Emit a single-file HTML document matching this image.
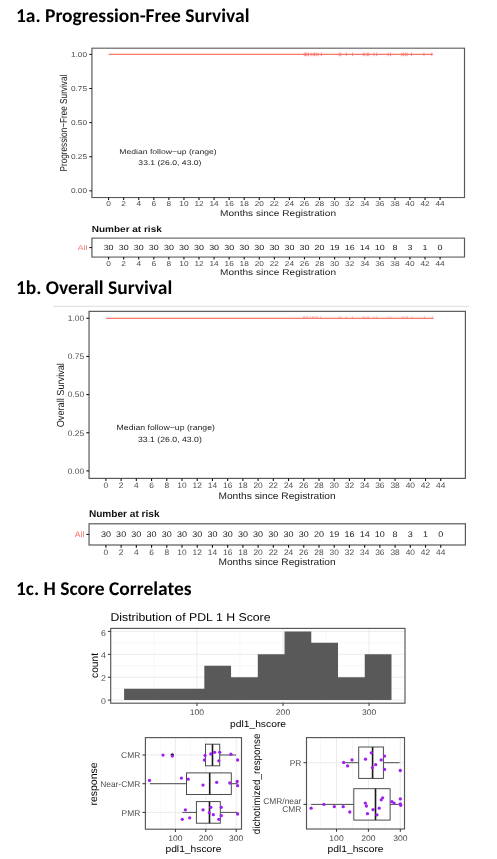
<!DOCTYPE html>
<html><head><meta charset="utf-8"><title>Figure 1</title><style>
html,body{margin:0;padding:0;background:#fff;}
body{width:497px;height:859px;overflow:hidden;position:relative;}
svg{position:absolute;left:0;top:0;font-family:'Liberation Sans', Arial, sans-serif;text-rendering:geometricPrecision;}
.ttl{font-family:Carlito, 'Liberation Sans', sans-serif;font-weight:bold;font-size:19.5px;fill:#000;}
</style></head><body>
<svg width="497" height="859" viewBox="0 0 497 859">
<text class="ttl" x="15.9" y="21.75" textLength="233.6" lengthAdjust="spacingAndGlyphs">1a. Progression-Free Survival</text>
<text class="ttl" x="15.9" y="293.85" textLength="156.3" lengthAdjust="spacingAndGlyphs">1b. Overall Survival</text>
<text class="ttl" x="15.9" y="594.6" textLength="175.7" lengthAdjust="spacingAndGlyphs">1c. H Score Correlates</text>
<g transform="matrix(0.99,0,0,0.894,3.76,-230.16)">
<rect x="89.05" y="311.35" width="376.35" height="167.05" fill="none" stroke="#595959" stroke-width="1.2"/>
<line x1="86.35" y1="470.90" x2="89.05" y2="470.90" stroke="#111" stroke-width="1.1"/>
<text transform="translate(84.15,473.75) scale(1,0.95)" font-size="8.4" text-anchor="end" fill="#4d4d4d">0.00</text>
<line x1="86.35" y1="432.75" x2="89.05" y2="432.75" stroke="#111" stroke-width="1.1"/>
<text transform="translate(84.15,435.60) scale(1,0.95)" font-size="8.4" text-anchor="end" fill="#4d4d4d">0.25</text>
<line x1="86.35" y1="394.60" x2="89.05" y2="394.60" stroke="#111" stroke-width="1.1"/>
<text transform="translate(84.15,397.45) scale(1,0.95)" font-size="8.4" text-anchor="end" fill="#4d4d4d">0.50</text>
<line x1="86.35" y1="356.45" x2="89.05" y2="356.45" stroke="#111" stroke-width="1.1"/>
<text transform="translate(84.15,359.30) scale(1,0.95)" font-size="8.4" text-anchor="end" fill="#4d4d4d">0.75</text>
<line x1="86.35" y1="318.30" x2="89.05" y2="318.30" stroke="#111" stroke-width="1.1"/>
<text transform="translate(84.15,321.15) scale(1,0.95)" font-size="8.4" text-anchor="end" fill="#4d4d4d">1.00</text>
<line x1="105.90" y1="478.40" x2="105.90" y2="481.10" stroke="#111" stroke-width="1.1"/>
<text transform="translate(105.90,488.30) scale(1,0.95)" font-size="8.4" text-anchor="middle" fill="#4d4d4d">0</text>
<line x1="121.12" y1="478.40" x2="121.12" y2="481.10" stroke="#111" stroke-width="1.1"/>
<text transform="translate(121.12,488.30) scale(1,0.95)" font-size="8.4" text-anchor="middle" fill="#4d4d4d">2</text>
<line x1="136.34" y1="478.40" x2="136.34" y2="481.10" stroke="#111" stroke-width="1.1"/>
<text transform="translate(136.34,488.30) scale(1,0.95)" font-size="8.4" text-anchor="middle" fill="#4d4d4d">4</text>
<line x1="151.56" y1="478.40" x2="151.56" y2="481.10" stroke="#111" stroke-width="1.1"/>
<text transform="translate(151.56,488.30) scale(1,0.95)" font-size="8.4" text-anchor="middle" fill="#4d4d4d">6</text>
<line x1="166.78" y1="478.40" x2="166.78" y2="481.10" stroke="#111" stroke-width="1.1"/>
<text transform="translate(166.78,488.30) scale(1,0.95)" font-size="8.4" text-anchor="middle" fill="#4d4d4d">8</text>
<line x1="182.00" y1="478.40" x2="182.00" y2="481.10" stroke="#111" stroke-width="1.1"/>
<text transform="translate(182.00,488.30) scale(1,0.95)" font-size="8.4" text-anchor="middle" fill="#4d4d4d">10</text>
<line x1="197.22" y1="478.40" x2="197.22" y2="481.10" stroke="#111" stroke-width="1.1"/>
<text transform="translate(197.22,488.30) scale(1,0.95)" font-size="8.4" text-anchor="middle" fill="#4d4d4d">12</text>
<line x1="212.44" y1="478.40" x2="212.44" y2="481.10" stroke="#111" stroke-width="1.1"/>
<text transform="translate(212.44,488.30) scale(1,0.95)" font-size="8.4" text-anchor="middle" fill="#4d4d4d">14</text>
<line x1="227.66" y1="478.40" x2="227.66" y2="481.10" stroke="#111" stroke-width="1.1"/>
<text transform="translate(227.66,488.30) scale(1,0.95)" font-size="8.4" text-anchor="middle" fill="#4d4d4d">16</text>
<line x1="242.88" y1="478.40" x2="242.88" y2="481.10" stroke="#111" stroke-width="1.1"/>
<text transform="translate(242.88,488.30) scale(1,0.95)" font-size="8.4" text-anchor="middle" fill="#4d4d4d">18</text>
<line x1="258.10" y1="478.40" x2="258.10" y2="481.10" stroke="#111" stroke-width="1.1"/>
<text transform="translate(258.10,488.30) scale(1,0.95)" font-size="8.4" text-anchor="middle" fill="#4d4d4d">20</text>
<line x1="273.32" y1="478.40" x2="273.32" y2="481.10" stroke="#111" stroke-width="1.1"/>
<text transform="translate(273.32,488.30) scale(1,0.95)" font-size="8.4" text-anchor="middle" fill="#4d4d4d">22</text>
<line x1="288.54" y1="478.40" x2="288.54" y2="481.10" stroke="#111" stroke-width="1.1"/>
<text transform="translate(288.54,488.30) scale(1,0.95)" font-size="8.4" text-anchor="middle" fill="#4d4d4d">24</text>
<line x1="303.76" y1="478.40" x2="303.76" y2="481.10" stroke="#111" stroke-width="1.1"/>
<text transform="translate(303.76,488.30) scale(1,0.95)" font-size="8.4" text-anchor="middle" fill="#4d4d4d">26</text>
<line x1="318.98" y1="478.40" x2="318.98" y2="481.10" stroke="#111" stroke-width="1.1"/>
<text transform="translate(318.98,488.30) scale(1,0.95)" font-size="8.4" text-anchor="middle" fill="#4d4d4d">28</text>
<line x1="334.20" y1="478.40" x2="334.20" y2="481.10" stroke="#111" stroke-width="1.1"/>
<text transform="translate(334.20,488.30) scale(1,0.95)" font-size="8.4" text-anchor="middle" fill="#4d4d4d">30</text>
<line x1="349.42" y1="478.40" x2="349.42" y2="481.10" stroke="#111" stroke-width="1.1"/>
<text transform="translate(349.42,488.30) scale(1,0.95)" font-size="8.4" text-anchor="middle" fill="#4d4d4d">32</text>
<line x1="364.64" y1="478.40" x2="364.64" y2="481.10" stroke="#111" stroke-width="1.1"/>
<text transform="translate(364.64,488.30) scale(1,0.95)" font-size="8.4" text-anchor="middle" fill="#4d4d4d">34</text>
<line x1="379.86" y1="478.40" x2="379.86" y2="481.10" stroke="#111" stroke-width="1.1"/>
<text transform="translate(379.86,488.30) scale(1,0.95)" font-size="8.4" text-anchor="middle" fill="#4d4d4d">36</text>
<line x1="395.08" y1="478.40" x2="395.08" y2="481.10" stroke="#111" stroke-width="1.1"/>
<text transform="translate(395.08,488.30) scale(1,0.95)" font-size="8.4" text-anchor="middle" fill="#4d4d4d">38</text>
<line x1="410.30" y1="478.40" x2="410.30" y2="481.10" stroke="#111" stroke-width="1.1"/>
<text transform="translate(410.30,488.30) scale(1,0.95)" font-size="8.4" text-anchor="middle" fill="#4d4d4d">40</text>
<line x1="425.52" y1="478.40" x2="425.52" y2="481.10" stroke="#111" stroke-width="1.1"/>
<text transform="translate(425.52,488.30) scale(1,0.95)" font-size="8.4" text-anchor="middle" fill="#4d4d4d">42</text>
<line x1="440.74" y1="478.40" x2="440.74" y2="481.10" stroke="#111" stroke-width="1.1"/>
<text transform="translate(440.74,488.30) scale(1,0.95)" font-size="8.4" text-anchor="middle" fill="#4d4d4d">44</text>
<text transform="translate(277.05,498.90) scale(1,0.93)" font-size="10.2" text-anchor="middle" fill="#1a1a1a">Months since Registration</text>
<text transform="translate(64.30,395.20) scale(1,0.9) rotate(-90)" font-size="10.2" text-anchor="middle" fill="#1a1a1a">Progression−Free Survival</text>
<line x1="105.90" y1="318.30" x2="433.51" y2="318.30" stroke="#F8766D" stroke-width="1.2"/>
<line x1="303.52" y1="316.30" x2="303.52" y2="320.30" stroke="#F8766D" stroke-width="0.9"/>
<line x1="304.73" y1="316.30" x2="304.73" y2="320.30" stroke="#F8766D" stroke-width="0.9"/>
<line x1="306.14" y1="316.30" x2="306.14" y2="320.30" stroke="#F8766D" stroke-width="0.9"/>
<line x1="307.66" y1="316.30" x2="307.66" y2="320.30" stroke="#F8766D" stroke-width="0.9"/>
<line x1="310.48" y1="316.30" x2="310.48" y2="320.30" stroke="#F8766D" stroke-width="0.9"/>
<line x1="312.60" y1="316.30" x2="312.60" y2="320.30" stroke="#F8766D" stroke-width="0.9"/>
<line x1="314.01" y1="316.30" x2="314.01" y2="320.30" stroke="#F8766D" stroke-width="0.9"/>
<line x1="315.73" y1="316.30" x2="315.73" y2="320.30" stroke="#F8766D" stroke-width="0.9"/>
<line x1="317.55" y1="316.30" x2="317.55" y2="320.30" stroke="#F8766D" stroke-width="0.9"/>
<line x1="320.68" y1="316.30" x2="320.68" y2="320.30" stroke="#F8766D" stroke-width="0.9"/>
<line x1="338.84" y1="316.30" x2="338.84" y2="320.30" stroke="#F8766D" stroke-width="0.9"/>
<line x1="340.56" y1="316.30" x2="340.56" y2="320.30" stroke="#F8766D" stroke-width="0.9"/>
<line x1="346.01" y1="316.30" x2="346.01" y2="320.30" stroke="#F8766D" stroke-width="0.9"/>
<line x1="352.37" y1="316.30" x2="352.37" y2="320.30" stroke="#F8766D" stroke-width="0.9"/>
<line x1="363.07" y1="316.30" x2="363.07" y2="320.30" stroke="#F8766D" stroke-width="0.9"/>
<line x1="364.78" y1="316.30" x2="364.78" y2="320.30" stroke="#F8766D" stroke-width="0.9"/>
<line x1="367.30" y1="316.30" x2="367.30" y2="320.30" stroke="#F8766D" stroke-width="0.9"/>
<line x1="368.72" y1="316.30" x2="368.72" y2="320.30" stroke="#F8766D" stroke-width="0.9"/>
<line x1="373.97" y1="316.30" x2="373.97" y2="320.30" stroke="#F8766D" stroke-width="0.9"/>
<line x1="376.79" y1="316.30" x2="376.79" y2="320.30" stroke="#F8766D" stroke-width="0.9"/>
<line x1="388.20" y1="316.30" x2="388.20" y2="320.30" stroke="#F8766D" stroke-width="0.9"/>
<line x1="390.72" y1="316.30" x2="390.72" y2="320.30" stroke="#F8766D" stroke-width="0.9"/>
<line x1="402.12" y1="316.30" x2="402.12" y2="320.30" stroke="#F8766D" stroke-width="0.9"/>
<line x1="403.84" y1="316.30" x2="403.84" y2="320.30" stroke="#F8766D" stroke-width="0.9"/>
<line x1="405.96" y1="316.30" x2="405.96" y2="320.30" stroke="#F8766D" stroke-width="0.9"/>
<line x1="407.37" y1="316.30" x2="407.37" y2="320.30" stroke="#F8766D" stroke-width="0.9"/>
<line x1="411.91" y1="316.30" x2="411.91" y2="320.30" stroke="#F8766D" stroke-width="0.9"/>
<line x1="424.43" y1="316.30" x2="424.43" y2="320.30" stroke="#F8766D" stroke-width="0.9"/>
<line x1="432.30" y1="316.30" x2="432.30" y2="320.30" stroke="#F8766D" stroke-width="0.9"/>
<text transform="translate(165.90,430.20) scale(1,0.88)" font-size="8.7" text-anchor="middle" fill="#222">Median follow−up (range)</text>
<text transform="translate(167.82,441.60) scale(1,0.88)" font-size="8.7" text-anchor="middle" fill="#222">33.1 (26.0, 43.0)</text>
<text transform="translate(88.90,516.70) scale(1,0.97)" font-size="10.1" font-weight="bold" fill="#111">Number at risk</text>
<rect x="89.05" y="523.8" width="376.35" height="21.20" fill="none" stroke="#595959" stroke-width="1.2"/>
<line x1="86.35" y1="534.40" x2="89.05" y2="534.40" stroke="#111" stroke-width="1.1"/>
<text transform="translate(84.40,537.30) scale(1,0.92)" font-size="8.6" text-anchor="end" fill="#F8766D">All</text>
<text transform="translate(105.90,536.90) scale(1,0.92)" font-size="9" text-anchor="middle" fill="#1a1a1a">30</text>
<text transform="translate(121.12,536.90) scale(1,0.92)" font-size="9" text-anchor="middle" fill="#1a1a1a">30</text>
<text transform="translate(136.34,536.90) scale(1,0.92)" font-size="9" text-anchor="middle" fill="#1a1a1a">30</text>
<text transform="translate(151.56,536.90) scale(1,0.92)" font-size="9" text-anchor="middle" fill="#1a1a1a">30</text>
<text transform="translate(166.78,536.90) scale(1,0.92)" font-size="9" text-anchor="middle" fill="#1a1a1a">30</text>
<text transform="translate(182.00,536.90) scale(1,0.92)" font-size="9" text-anchor="middle" fill="#1a1a1a">30</text>
<text transform="translate(197.22,536.90) scale(1,0.92)" font-size="9" text-anchor="middle" fill="#1a1a1a">30</text>
<text transform="translate(212.44,536.90) scale(1,0.92)" font-size="9" text-anchor="middle" fill="#1a1a1a">30</text>
<text transform="translate(227.66,536.90) scale(1,0.92)" font-size="9" text-anchor="middle" fill="#1a1a1a">30</text>
<text transform="translate(242.88,536.90) scale(1,0.92)" font-size="9" text-anchor="middle" fill="#1a1a1a">30</text>
<text transform="translate(258.10,536.90) scale(1,0.92)" font-size="9" text-anchor="middle" fill="#1a1a1a">30</text>
<text transform="translate(273.32,536.90) scale(1,0.92)" font-size="9" text-anchor="middle" fill="#1a1a1a">30</text>
<text transform="translate(288.54,536.90) scale(1,0.92)" font-size="9" text-anchor="middle" fill="#1a1a1a">30</text>
<text transform="translate(303.76,536.90) scale(1,0.92)" font-size="9" text-anchor="middle" fill="#1a1a1a">30</text>
<text transform="translate(318.98,536.90) scale(1,0.92)" font-size="9" text-anchor="middle" fill="#1a1a1a">20</text>
<text transform="translate(334.20,536.90) scale(1,0.92)" font-size="9" text-anchor="middle" fill="#1a1a1a">19</text>
<text transform="translate(349.42,536.90) scale(1,0.92)" font-size="9" text-anchor="middle" fill="#1a1a1a">16</text>
<text transform="translate(364.64,536.90) scale(1,0.92)" font-size="9" text-anchor="middle" fill="#1a1a1a">14</text>
<text transform="translate(379.86,536.90) scale(1,0.92)" font-size="9" text-anchor="middle" fill="#1a1a1a">10</text>
<text transform="translate(395.08,536.90) scale(1,0.92)" font-size="9" text-anchor="middle" fill="#1a1a1a">8</text>
<text transform="translate(410.30,536.90) scale(1,0.92)" font-size="9" text-anchor="middle" fill="#1a1a1a">3</text>
<text transform="translate(425.52,536.90) scale(1,0.92)" font-size="9" text-anchor="middle" fill="#1a1a1a">1</text>
<text transform="translate(440.74,536.90) scale(1,0.92)" font-size="9" text-anchor="middle" fill="#1a1a1a">0</text>
<line x1="105.90" y1="545.00" x2="105.90" y2="547.70" stroke="#111" stroke-width="1.1"/>
<text transform="translate(105.90,554.80) scale(1,0.95)" font-size="8.4" text-anchor="middle" fill="#4d4d4d">0</text>
<line x1="121.12" y1="545.00" x2="121.12" y2="547.70" stroke="#111" stroke-width="1.1"/>
<text transform="translate(121.12,554.80) scale(1,0.95)" font-size="8.4" text-anchor="middle" fill="#4d4d4d">2</text>
<line x1="136.34" y1="545.00" x2="136.34" y2="547.70" stroke="#111" stroke-width="1.1"/>
<text transform="translate(136.34,554.80) scale(1,0.95)" font-size="8.4" text-anchor="middle" fill="#4d4d4d">4</text>
<line x1="151.56" y1="545.00" x2="151.56" y2="547.70" stroke="#111" stroke-width="1.1"/>
<text transform="translate(151.56,554.80) scale(1,0.95)" font-size="8.4" text-anchor="middle" fill="#4d4d4d">6</text>
<line x1="166.78" y1="545.00" x2="166.78" y2="547.70" stroke="#111" stroke-width="1.1"/>
<text transform="translate(166.78,554.80) scale(1,0.95)" font-size="8.4" text-anchor="middle" fill="#4d4d4d">8</text>
<line x1="182.00" y1="545.00" x2="182.00" y2="547.70" stroke="#111" stroke-width="1.1"/>
<text transform="translate(182.00,554.80) scale(1,0.95)" font-size="8.4" text-anchor="middle" fill="#4d4d4d">10</text>
<line x1="197.22" y1="545.00" x2="197.22" y2="547.70" stroke="#111" stroke-width="1.1"/>
<text transform="translate(197.22,554.80) scale(1,0.95)" font-size="8.4" text-anchor="middle" fill="#4d4d4d">12</text>
<line x1="212.44" y1="545.00" x2="212.44" y2="547.70" stroke="#111" stroke-width="1.1"/>
<text transform="translate(212.44,554.80) scale(1,0.95)" font-size="8.4" text-anchor="middle" fill="#4d4d4d">14</text>
<line x1="227.66" y1="545.00" x2="227.66" y2="547.70" stroke="#111" stroke-width="1.1"/>
<text transform="translate(227.66,554.80) scale(1,0.95)" font-size="8.4" text-anchor="middle" fill="#4d4d4d">16</text>
<line x1="242.88" y1="545.00" x2="242.88" y2="547.70" stroke="#111" stroke-width="1.1"/>
<text transform="translate(242.88,554.80) scale(1,0.95)" font-size="8.4" text-anchor="middle" fill="#4d4d4d">18</text>
<line x1="258.10" y1="545.00" x2="258.10" y2="547.70" stroke="#111" stroke-width="1.1"/>
<text transform="translate(258.10,554.80) scale(1,0.95)" font-size="8.4" text-anchor="middle" fill="#4d4d4d">20</text>
<line x1="273.32" y1="545.00" x2="273.32" y2="547.70" stroke="#111" stroke-width="1.1"/>
<text transform="translate(273.32,554.80) scale(1,0.95)" font-size="8.4" text-anchor="middle" fill="#4d4d4d">22</text>
<line x1="288.54" y1="545.00" x2="288.54" y2="547.70" stroke="#111" stroke-width="1.1"/>
<text transform="translate(288.54,554.80) scale(1,0.95)" font-size="8.4" text-anchor="middle" fill="#4d4d4d">24</text>
<line x1="303.76" y1="545.00" x2="303.76" y2="547.70" stroke="#111" stroke-width="1.1"/>
<text transform="translate(303.76,554.80) scale(1,0.95)" font-size="8.4" text-anchor="middle" fill="#4d4d4d">26</text>
<line x1="318.98" y1="545.00" x2="318.98" y2="547.70" stroke="#111" stroke-width="1.1"/>
<text transform="translate(318.98,554.80) scale(1,0.95)" font-size="8.4" text-anchor="middle" fill="#4d4d4d">28</text>
<line x1="334.20" y1="545.00" x2="334.20" y2="547.70" stroke="#111" stroke-width="1.1"/>
<text transform="translate(334.20,554.80) scale(1,0.95)" font-size="8.4" text-anchor="middle" fill="#4d4d4d">30</text>
<line x1="349.42" y1="545.00" x2="349.42" y2="547.70" stroke="#111" stroke-width="1.1"/>
<text transform="translate(349.42,554.80) scale(1,0.95)" font-size="8.4" text-anchor="middle" fill="#4d4d4d">32</text>
<line x1="364.64" y1="545.00" x2="364.64" y2="547.70" stroke="#111" stroke-width="1.1"/>
<text transform="translate(364.64,554.80) scale(1,0.95)" font-size="8.4" text-anchor="middle" fill="#4d4d4d">34</text>
<line x1="379.86" y1="545.00" x2="379.86" y2="547.70" stroke="#111" stroke-width="1.1"/>
<text transform="translate(379.86,554.80) scale(1,0.95)" font-size="8.4" text-anchor="middle" fill="#4d4d4d">36</text>
<line x1="395.08" y1="545.00" x2="395.08" y2="547.70" stroke="#111" stroke-width="1.1"/>
<text transform="translate(395.08,554.80) scale(1,0.95)" font-size="8.4" text-anchor="middle" fill="#4d4d4d">38</text>
<line x1="410.30" y1="545.00" x2="410.30" y2="547.70" stroke="#111" stroke-width="1.1"/>
<text transform="translate(410.30,554.80) scale(1,0.95)" font-size="8.4" text-anchor="middle" fill="#4d4d4d">40</text>
<line x1="425.52" y1="545.00" x2="425.52" y2="547.70" stroke="#111" stroke-width="1.1"/>
<text transform="translate(425.52,554.80) scale(1,0.95)" font-size="8.4" text-anchor="middle" fill="#4d4d4d">42</text>
<line x1="440.74" y1="545.00" x2="440.74" y2="547.70" stroke="#111" stroke-width="1.1"/>
<text transform="translate(440.74,554.80) scale(1,0.95)" font-size="8.4" text-anchor="middle" fill="#4d4d4d">44</text>
<text transform="translate(277.05,565.30) scale(1,0.93)" font-size="10.2" text-anchor="middle" fill="#1a1a1a">Months since Registration</text>
</g>
<line x1="53.2" y1="306.3" x2="469.3" y2="306.3" stroke="#dcdcdc" stroke-width="1"/>
<g>
<rect x="89.05" y="311.35" width="376.35" height="167.05" fill="none" stroke="#595959" stroke-width="1.2"/>
<line x1="86.35" y1="470.90" x2="89.05" y2="470.90" stroke="#111" stroke-width="1.1"/>
<text transform="translate(84.15,473.75) scale(1,0.95)" font-size="8.4" text-anchor="end" fill="#4d4d4d">0.00</text>
<line x1="86.35" y1="432.75" x2="89.05" y2="432.75" stroke="#111" stroke-width="1.1"/>
<text transform="translate(84.15,435.60) scale(1,0.95)" font-size="8.4" text-anchor="end" fill="#4d4d4d">0.25</text>
<line x1="86.35" y1="394.60" x2="89.05" y2="394.60" stroke="#111" stroke-width="1.1"/>
<text transform="translate(84.15,397.45) scale(1,0.95)" font-size="8.4" text-anchor="end" fill="#4d4d4d">0.50</text>
<line x1="86.35" y1="356.45" x2="89.05" y2="356.45" stroke="#111" stroke-width="1.1"/>
<text transform="translate(84.15,359.30) scale(1,0.95)" font-size="8.4" text-anchor="end" fill="#4d4d4d">0.75</text>
<line x1="86.35" y1="318.30" x2="89.05" y2="318.30" stroke="#111" stroke-width="1.1"/>
<text transform="translate(84.15,321.15) scale(1,0.95)" font-size="8.4" text-anchor="end" fill="#4d4d4d">1.00</text>
<line x1="105.90" y1="478.40" x2="105.90" y2="481.10" stroke="#111" stroke-width="1.1"/>
<text transform="translate(105.90,488.30) scale(1,0.95)" font-size="8.4" text-anchor="middle" fill="#4d4d4d">0</text>
<line x1="121.12" y1="478.40" x2="121.12" y2="481.10" stroke="#111" stroke-width="1.1"/>
<text transform="translate(121.12,488.30) scale(1,0.95)" font-size="8.4" text-anchor="middle" fill="#4d4d4d">2</text>
<line x1="136.34" y1="478.40" x2="136.34" y2="481.10" stroke="#111" stroke-width="1.1"/>
<text transform="translate(136.34,488.30) scale(1,0.95)" font-size="8.4" text-anchor="middle" fill="#4d4d4d">4</text>
<line x1="151.56" y1="478.40" x2="151.56" y2="481.10" stroke="#111" stroke-width="1.1"/>
<text transform="translate(151.56,488.30) scale(1,0.95)" font-size="8.4" text-anchor="middle" fill="#4d4d4d">6</text>
<line x1="166.78" y1="478.40" x2="166.78" y2="481.10" stroke="#111" stroke-width="1.1"/>
<text transform="translate(166.78,488.30) scale(1,0.95)" font-size="8.4" text-anchor="middle" fill="#4d4d4d">8</text>
<line x1="182.00" y1="478.40" x2="182.00" y2="481.10" stroke="#111" stroke-width="1.1"/>
<text transform="translate(182.00,488.30) scale(1,0.95)" font-size="8.4" text-anchor="middle" fill="#4d4d4d">10</text>
<line x1="197.22" y1="478.40" x2="197.22" y2="481.10" stroke="#111" stroke-width="1.1"/>
<text transform="translate(197.22,488.30) scale(1,0.95)" font-size="8.4" text-anchor="middle" fill="#4d4d4d">12</text>
<line x1="212.44" y1="478.40" x2="212.44" y2="481.10" stroke="#111" stroke-width="1.1"/>
<text transform="translate(212.44,488.30) scale(1,0.95)" font-size="8.4" text-anchor="middle" fill="#4d4d4d">14</text>
<line x1="227.66" y1="478.40" x2="227.66" y2="481.10" stroke="#111" stroke-width="1.1"/>
<text transform="translate(227.66,488.30) scale(1,0.95)" font-size="8.4" text-anchor="middle" fill="#4d4d4d">16</text>
<line x1="242.88" y1="478.40" x2="242.88" y2="481.10" stroke="#111" stroke-width="1.1"/>
<text transform="translate(242.88,488.30) scale(1,0.95)" font-size="8.4" text-anchor="middle" fill="#4d4d4d">18</text>
<line x1="258.10" y1="478.40" x2="258.10" y2="481.10" stroke="#111" stroke-width="1.1"/>
<text transform="translate(258.10,488.30) scale(1,0.95)" font-size="8.4" text-anchor="middle" fill="#4d4d4d">20</text>
<line x1="273.32" y1="478.40" x2="273.32" y2="481.10" stroke="#111" stroke-width="1.1"/>
<text transform="translate(273.32,488.30) scale(1,0.95)" font-size="8.4" text-anchor="middle" fill="#4d4d4d">22</text>
<line x1="288.54" y1="478.40" x2="288.54" y2="481.10" stroke="#111" stroke-width="1.1"/>
<text transform="translate(288.54,488.30) scale(1,0.95)" font-size="8.4" text-anchor="middle" fill="#4d4d4d">24</text>
<line x1="303.76" y1="478.40" x2="303.76" y2="481.10" stroke="#111" stroke-width="1.1"/>
<text transform="translate(303.76,488.30) scale(1,0.95)" font-size="8.4" text-anchor="middle" fill="#4d4d4d">26</text>
<line x1="318.98" y1="478.40" x2="318.98" y2="481.10" stroke="#111" stroke-width="1.1"/>
<text transform="translate(318.98,488.30) scale(1,0.95)" font-size="8.4" text-anchor="middle" fill="#4d4d4d">28</text>
<line x1="334.20" y1="478.40" x2="334.20" y2="481.10" stroke="#111" stroke-width="1.1"/>
<text transform="translate(334.20,488.30) scale(1,0.95)" font-size="8.4" text-anchor="middle" fill="#4d4d4d">30</text>
<line x1="349.42" y1="478.40" x2="349.42" y2="481.10" stroke="#111" stroke-width="1.1"/>
<text transform="translate(349.42,488.30) scale(1,0.95)" font-size="8.4" text-anchor="middle" fill="#4d4d4d">32</text>
<line x1="364.64" y1="478.40" x2="364.64" y2="481.10" stroke="#111" stroke-width="1.1"/>
<text transform="translate(364.64,488.30) scale(1,0.95)" font-size="8.4" text-anchor="middle" fill="#4d4d4d">34</text>
<line x1="379.86" y1="478.40" x2="379.86" y2="481.10" stroke="#111" stroke-width="1.1"/>
<text transform="translate(379.86,488.30) scale(1,0.95)" font-size="8.4" text-anchor="middle" fill="#4d4d4d">36</text>
<line x1="395.08" y1="478.40" x2="395.08" y2="481.10" stroke="#111" stroke-width="1.1"/>
<text transform="translate(395.08,488.30) scale(1,0.95)" font-size="8.4" text-anchor="middle" fill="#4d4d4d">38</text>
<line x1="410.30" y1="478.40" x2="410.30" y2="481.10" stroke="#111" stroke-width="1.1"/>
<text transform="translate(410.30,488.30) scale(1,0.95)" font-size="8.4" text-anchor="middle" fill="#4d4d4d">40</text>
<line x1="425.52" y1="478.40" x2="425.52" y2="481.10" stroke="#111" stroke-width="1.1"/>
<text transform="translate(425.52,488.30) scale(1,0.95)" font-size="8.4" text-anchor="middle" fill="#4d4d4d">42</text>
<line x1="440.74" y1="478.40" x2="440.74" y2="481.10" stroke="#111" stroke-width="1.1"/>
<text transform="translate(440.74,488.30) scale(1,0.95)" font-size="8.4" text-anchor="middle" fill="#4d4d4d">44</text>
<text transform="translate(277.05,498.90) scale(1,0.93)" font-size="10.2" text-anchor="middle" fill="#1a1a1a">Months since Registration</text>
<text transform="translate(64.30,395.20) scale(1,0.9) rotate(-90)" font-size="10.2" text-anchor="middle" fill="#1a1a1a">Overall Survival</text>
<line x1="105.90" y1="318.30" x2="433.51" y2="318.30" stroke="#F8766D" stroke-width="1.2"/>
<line x1="303.52" y1="316.10" x2="303.52" y2="318.30" stroke="#F8766D" stroke-width="0.8" stroke-opacity="0.6"/>
<line x1="304.73" y1="316.10" x2="304.73" y2="318.30" stroke="#F8766D" stroke-width="0.8" stroke-opacity="0.6"/>
<line x1="306.14" y1="316.10" x2="306.14" y2="318.30" stroke="#F8766D" stroke-width="0.8" stroke-opacity="0.6"/>
<line x1="307.66" y1="316.10" x2="307.66" y2="318.30" stroke="#F8766D" stroke-width="0.8" stroke-opacity="0.6"/>
<line x1="310.48" y1="316.10" x2="310.48" y2="318.30" stroke="#F8766D" stroke-width="0.8" stroke-opacity="0.6"/>
<line x1="312.60" y1="316.10" x2="312.60" y2="318.30" stroke="#F8766D" stroke-width="0.8" stroke-opacity="0.6"/>
<line x1="314.01" y1="316.10" x2="314.01" y2="318.30" stroke="#F8766D" stroke-width="0.8" stroke-opacity="0.6"/>
<line x1="315.73" y1="316.10" x2="315.73" y2="318.30" stroke="#F8766D" stroke-width="0.8" stroke-opacity="0.6"/>
<line x1="317.55" y1="316.10" x2="317.55" y2="318.30" stroke="#F8766D" stroke-width="0.8" stroke-opacity="0.6"/>
<line x1="320.68" y1="316.10" x2="320.68" y2="318.30" stroke="#F8766D" stroke-width="0.8" stroke-opacity="0.6"/>
<line x1="338.84" y1="316.10" x2="338.84" y2="318.30" stroke="#F8766D" stroke-width="0.8" stroke-opacity="0.6"/>
<line x1="340.56" y1="316.10" x2="340.56" y2="318.30" stroke="#F8766D" stroke-width="0.8" stroke-opacity="0.6"/>
<line x1="346.01" y1="316.10" x2="346.01" y2="318.30" stroke="#F8766D" stroke-width="0.8" stroke-opacity="0.6"/>
<line x1="352.37" y1="316.10" x2="352.37" y2="318.30" stroke="#F8766D" stroke-width="0.8" stroke-opacity="0.6"/>
<line x1="363.07" y1="316.10" x2="363.07" y2="318.30" stroke="#F8766D" stroke-width="0.8" stroke-opacity="0.6"/>
<line x1="364.78" y1="316.10" x2="364.78" y2="318.30" stroke="#F8766D" stroke-width="0.8" stroke-opacity="0.6"/>
<line x1="367.30" y1="316.10" x2="367.30" y2="318.30" stroke="#F8766D" stroke-width="0.8" stroke-opacity="0.6"/>
<line x1="368.72" y1="316.10" x2="368.72" y2="318.30" stroke="#F8766D" stroke-width="0.8" stroke-opacity="0.6"/>
<line x1="373.97" y1="316.10" x2="373.97" y2="318.30" stroke="#F8766D" stroke-width="0.8" stroke-opacity="0.6"/>
<line x1="376.79" y1="316.10" x2="376.79" y2="318.30" stroke="#F8766D" stroke-width="0.8" stroke-opacity="0.6"/>
<line x1="388.20" y1="316.10" x2="388.20" y2="318.30" stroke="#F8766D" stroke-width="0.8" stroke-opacity="0.6"/>
<line x1="390.72" y1="316.10" x2="390.72" y2="318.30" stroke="#F8766D" stroke-width="0.8" stroke-opacity="0.6"/>
<line x1="402.12" y1="316.10" x2="402.12" y2="318.30" stroke="#F8766D" stroke-width="0.8" stroke-opacity="0.6"/>
<line x1="403.84" y1="316.10" x2="403.84" y2="318.30" stroke="#F8766D" stroke-width="0.8" stroke-opacity="0.6"/>
<line x1="405.96" y1="316.10" x2="405.96" y2="318.30" stroke="#F8766D" stroke-width="0.8" stroke-opacity="0.6"/>
<line x1="407.37" y1="316.10" x2="407.37" y2="318.30" stroke="#F8766D" stroke-width="0.8" stroke-opacity="0.6"/>
<line x1="411.91" y1="316.10" x2="411.91" y2="318.30" stroke="#F8766D" stroke-width="0.8" stroke-opacity="0.6"/>
<line x1="424.43" y1="316.10" x2="424.43" y2="318.30" stroke="#F8766D" stroke-width="0.8" stroke-opacity="0.6"/>
<line x1="432.30" y1="316.10" x2="432.30" y2="318.30" stroke="#F8766D" stroke-width="0.8" stroke-opacity="0.6"/>
<text transform="translate(165.75,430.20) scale(1,0.88)" font-size="8.7" text-anchor="middle" fill="#222">Median follow−up (range)</text>
<text transform="translate(169.90,441.60) scale(1,0.88)" font-size="8.7" text-anchor="middle" fill="#222">33.1 (26.0, 43.0)</text>
<text transform="translate(88.90,516.70) scale(1,0.97)" font-size="10.1" font-weight="bold" fill="#111">Number at risk</text>
<rect x="89.05" y="523.8" width="376.35" height="21.20" fill="none" stroke="#595959" stroke-width="1.2"/>
<line x1="86.35" y1="534.40" x2="89.05" y2="534.40" stroke="#111" stroke-width="1.1"/>
<text transform="translate(84.40,537.30) scale(1,0.92)" font-size="8.6" text-anchor="end" fill="#F8766D">All</text>
<text transform="translate(105.90,536.90) scale(1,0.92)" font-size="9" text-anchor="middle" fill="#1a1a1a">30</text>
<text transform="translate(121.12,536.90) scale(1,0.92)" font-size="9" text-anchor="middle" fill="#1a1a1a">30</text>
<text transform="translate(136.34,536.90) scale(1,0.92)" font-size="9" text-anchor="middle" fill="#1a1a1a">30</text>
<text transform="translate(151.56,536.90) scale(1,0.92)" font-size="9" text-anchor="middle" fill="#1a1a1a">30</text>
<text transform="translate(166.78,536.90) scale(1,0.92)" font-size="9" text-anchor="middle" fill="#1a1a1a">30</text>
<text transform="translate(182.00,536.90) scale(1,0.92)" font-size="9" text-anchor="middle" fill="#1a1a1a">30</text>
<text transform="translate(197.22,536.90) scale(1,0.92)" font-size="9" text-anchor="middle" fill="#1a1a1a">30</text>
<text transform="translate(212.44,536.90) scale(1,0.92)" font-size="9" text-anchor="middle" fill="#1a1a1a">30</text>
<text transform="translate(227.66,536.90) scale(1,0.92)" font-size="9" text-anchor="middle" fill="#1a1a1a">30</text>
<text transform="translate(242.88,536.90) scale(1,0.92)" font-size="9" text-anchor="middle" fill="#1a1a1a">30</text>
<text transform="translate(258.10,536.90) scale(1,0.92)" font-size="9" text-anchor="middle" fill="#1a1a1a">30</text>
<text transform="translate(273.32,536.90) scale(1,0.92)" font-size="9" text-anchor="middle" fill="#1a1a1a">30</text>
<text transform="translate(288.54,536.90) scale(1,0.92)" font-size="9" text-anchor="middle" fill="#1a1a1a">30</text>
<text transform="translate(303.76,536.90) scale(1,0.92)" font-size="9" text-anchor="middle" fill="#1a1a1a">30</text>
<text transform="translate(318.98,536.90) scale(1,0.92)" font-size="9" text-anchor="middle" fill="#1a1a1a">20</text>
<text transform="translate(334.20,536.90) scale(1,0.92)" font-size="9" text-anchor="middle" fill="#1a1a1a">19</text>
<text transform="translate(349.42,536.90) scale(1,0.92)" font-size="9" text-anchor="middle" fill="#1a1a1a">16</text>
<text transform="translate(364.64,536.90) scale(1,0.92)" font-size="9" text-anchor="middle" fill="#1a1a1a">14</text>
<text transform="translate(379.86,536.90) scale(1,0.92)" font-size="9" text-anchor="middle" fill="#1a1a1a">10</text>
<text transform="translate(395.08,536.90) scale(1,0.92)" font-size="9" text-anchor="middle" fill="#1a1a1a">8</text>
<text transform="translate(410.30,536.90) scale(1,0.92)" font-size="9" text-anchor="middle" fill="#1a1a1a">3</text>
<text transform="translate(425.52,536.90) scale(1,0.92)" font-size="9" text-anchor="middle" fill="#1a1a1a">1</text>
<text transform="translate(440.74,536.90) scale(1,0.92)" font-size="9" text-anchor="middle" fill="#1a1a1a">0</text>
<line x1="105.90" y1="545.00" x2="105.90" y2="547.70" stroke="#111" stroke-width="1.1"/>
<text transform="translate(105.90,554.80) scale(1,0.95)" font-size="8.4" text-anchor="middle" fill="#4d4d4d">0</text>
<line x1="121.12" y1="545.00" x2="121.12" y2="547.70" stroke="#111" stroke-width="1.1"/>
<text transform="translate(121.12,554.80) scale(1,0.95)" font-size="8.4" text-anchor="middle" fill="#4d4d4d">2</text>
<line x1="136.34" y1="545.00" x2="136.34" y2="547.70" stroke="#111" stroke-width="1.1"/>
<text transform="translate(136.34,554.80) scale(1,0.95)" font-size="8.4" text-anchor="middle" fill="#4d4d4d">4</text>
<line x1="151.56" y1="545.00" x2="151.56" y2="547.70" stroke="#111" stroke-width="1.1"/>
<text transform="translate(151.56,554.80) scale(1,0.95)" font-size="8.4" text-anchor="middle" fill="#4d4d4d">6</text>
<line x1="166.78" y1="545.00" x2="166.78" y2="547.70" stroke="#111" stroke-width="1.1"/>
<text transform="translate(166.78,554.80) scale(1,0.95)" font-size="8.4" text-anchor="middle" fill="#4d4d4d">8</text>
<line x1="182.00" y1="545.00" x2="182.00" y2="547.70" stroke="#111" stroke-width="1.1"/>
<text transform="translate(182.00,554.80) scale(1,0.95)" font-size="8.4" text-anchor="middle" fill="#4d4d4d">10</text>
<line x1="197.22" y1="545.00" x2="197.22" y2="547.70" stroke="#111" stroke-width="1.1"/>
<text transform="translate(197.22,554.80) scale(1,0.95)" font-size="8.4" text-anchor="middle" fill="#4d4d4d">12</text>
<line x1="212.44" y1="545.00" x2="212.44" y2="547.70" stroke="#111" stroke-width="1.1"/>
<text transform="translate(212.44,554.80) scale(1,0.95)" font-size="8.4" text-anchor="middle" fill="#4d4d4d">14</text>
<line x1="227.66" y1="545.00" x2="227.66" y2="547.70" stroke="#111" stroke-width="1.1"/>
<text transform="translate(227.66,554.80) scale(1,0.95)" font-size="8.4" text-anchor="middle" fill="#4d4d4d">16</text>
<line x1="242.88" y1="545.00" x2="242.88" y2="547.70" stroke="#111" stroke-width="1.1"/>
<text transform="translate(242.88,554.80) scale(1,0.95)" font-size="8.4" text-anchor="middle" fill="#4d4d4d">18</text>
<line x1="258.10" y1="545.00" x2="258.10" y2="547.70" stroke="#111" stroke-width="1.1"/>
<text transform="translate(258.10,554.80) scale(1,0.95)" font-size="8.4" text-anchor="middle" fill="#4d4d4d">20</text>
<line x1="273.32" y1="545.00" x2="273.32" y2="547.70" stroke="#111" stroke-width="1.1"/>
<text transform="translate(273.32,554.80) scale(1,0.95)" font-size="8.4" text-anchor="middle" fill="#4d4d4d">22</text>
<line x1="288.54" y1="545.00" x2="288.54" y2="547.70" stroke="#111" stroke-width="1.1"/>
<text transform="translate(288.54,554.80) scale(1,0.95)" font-size="8.4" text-anchor="middle" fill="#4d4d4d">24</text>
<line x1="303.76" y1="545.00" x2="303.76" y2="547.70" stroke="#111" stroke-width="1.1"/>
<text transform="translate(303.76,554.80) scale(1,0.95)" font-size="8.4" text-anchor="middle" fill="#4d4d4d">26</text>
<line x1="318.98" y1="545.00" x2="318.98" y2="547.70" stroke="#111" stroke-width="1.1"/>
<text transform="translate(318.98,554.80) scale(1,0.95)" font-size="8.4" text-anchor="middle" fill="#4d4d4d">28</text>
<line x1="334.20" y1="545.00" x2="334.20" y2="547.70" stroke="#111" stroke-width="1.1"/>
<text transform="translate(334.20,554.80) scale(1,0.95)" font-size="8.4" text-anchor="middle" fill="#4d4d4d">30</text>
<line x1="349.42" y1="545.00" x2="349.42" y2="547.70" stroke="#111" stroke-width="1.1"/>
<text transform="translate(349.42,554.80) scale(1,0.95)" font-size="8.4" text-anchor="middle" fill="#4d4d4d">32</text>
<line x1="364.64" y1="545.00" x2="364.64" y2="547.70" stroke="#111" stroke-width="1.1"/>
<text transform="translate(364.64,554.80) scale(1,0.95)" font-size="8.4" text-anchor="middle" fill="#4d4d4d">34</text>
<line x1="379.86" y1="545.00" x2="379.86" y2="547.70" stroke="#111" stroke-width="1.1"/>
<text transform="translate(379.86,554.80) scale(1,0.95)" font-size="8.4" text-anchor="middle" fill="#4d4d4d">36</text>
<line x1="395.08" y1="545.00" x2="395.08" y2="547.70" stroke="#111" stroke-width="1.1"/>
<text transform="translate(395.08,554.80) scale(1,0.95)" font-size="8.4" text-anchor="middle" fill="#4d4d4d">38</text>
<line x1="410.30" y1="545.00" x2="410.30" y2="547.70" stroke="#111" stroke-width="1.1"/>
<text transform="translate(410.30,554.80) scale(1,0.95)" font-size="8.4" text-anchor="middle" fill="#4d4d4d">40</text>
<line x1="425.52" y1="545.00" x2="425.52" y2="547.70" stroke="#111" stroke-width="1.1"/>
<text transform="translate(425.52,554.80) scale(1,0.95)" font-size="8.4" text-anchor="middle" fill="#4d4d4d">42</text>
<line x1="440.74" y1="545.00" x2="440.74" y2="547.70" stroke="#111" stroke-width="1.1"/>
<text transform="translate(440.74,554.80) scale(1,0.95)" font-size="8.4" text-anchor="middle" fill="#4d4d4d">44</text>
<text transform="translate(277.05,565.30) scale(1,0.93)" font-size="10.2" text-anchor="middle" fill="#1a1a1a">Months since Registration</text>
</g>
<rect x="110.7" y="628.4" width="294.30" height="74.80" fill="#fff"/>
<line x1="110.7" y1="688.65" x2="405.0" y2="688.65" stroke="#f2f2f2" stroke-width="0.6"/>
<line x1="110.7" y1="665.75" x2="405.0" y2="665.75" stroke="#f2f2f2" stroke-width="0.6"/>
<line x1="110.7" y1="642.85" x2="405.0" y2="642.85" stroke="#f2f2f2" stroke-width="0.6"/>
<line x1="153.93" y1="628.4" x2="153.93" y2="703.2" stroke="#f2f2f2" stroke-width="0.6"/>
<line x1="239.98" y1="628.4" x2="239.98" y2="703.2" stroke="#f2f2f2" stroke-width="0.6"/>
<line x1="326.02" y1="628.4" x2="326.02" y2="703.2" stroke="#f2f2f2" stroke-width="0.6"/>
<line x1="110.7" y1="700.10" x2="405.0" y2="700.10" stroke="#ebebeb" stroke-width="1"/>
<line x1="110.7" y1="677.20" x2="405.0" y2="677.20" stroke="#ebebeb" stroke-width="1"/>
<line x1="110.7" y1="654.30" x2="405.0" y2="654.30" stroke="#ebebeb" stroke-width="1"/>
<line x1="110.7" y1="631.40" x2="405.0" y2="631.40" stroke="#ebebeb" stroke-width="1"/>
<line x1="196.95" y1="628.4" x2="196.95" y2="703.2" stroke="#ebebeb" stroke-width="1"/>
<line x1="283.00" y1="628.4" x2="283.00" y2="703.2" stroke="#ebebeb" stroke-width="1"/>
<line x1="369.05" y1="628.4" x2="369.05" y2="703.2" stroke="#ebebeb" stroke-width="1"/>
<path d="M124.10,700.10 L124.10,688.65 L150.84,688.65 L150.84,688.65 L177.58,688.65 L177.58,688.65 L204.32,688.65 L204.32,665.75 L231.06,665.75 L231.06,677.20 L257.80,677.20 L257.80,654.30 L284.54,654.30 L284.54,631.40 L311.28,631.40 L311.28,642.85 L338.02,642.85 L338.02,677.20 L364.76,677.20 L364.76,654.30 L391.50,654.30 L391.50,700.10 Z" fill="#595959"/>
<rect x="110.7" y="628.4" width="294.30" height="74.80" fill="none" stroke="#555" stroke-width="1.15"/>
<line x1="107.90" y1="700.10" x2="110.7" y2="700.10" stroke="#333" stroke-width="1"/>
<text transform="translate(105.80,704.20) scale(1,0.95)" font-size="8.8" text-anchor="end" fill="#4d4d4d">0</text>
<line x1="107.90" y1="677.20" x2="110.7" y2="677.20" stroke="#333" stroke-width="1"/>
<text transform="translate(105.80,681.30) scale(1,0.95)" font-size="8.8" text-anchor="end" fill="#4d4d4d">2</text>
<line x1="107.90" y1="654.30" x2="110.7" y2="654.30" stroke="#333" stroke-width="1"/>
<text transform="translate(105.80,658.40) scale(1,0.95)" font-size="8.8" text-anchor="end" fill="#4d4d4d">4</text>
<line x1="107.90" y1="631.40" x2="110.7" y2="631.40" stroke="#333" stroke-width="1"/>
<text transform="translate(105.80,635.50) scale(1,0.95)" font-size="8.8" text-anchor="end" fill="#4d4d4d">6</text>
<line x1="196.95" y1="703.2" x2="196.95" y2="706.00" stroke="#333" stroke-width="1"/>
<text transform="translate(196.95,714.70) scale(1,0.95)" font-size="8.6" text-anchor="middle" fill="#4d4d4d">100</text>
<line x1="283.00" y1="703.2" x2="283.00" y2="706.00" stroke="#333" stroke-width="1"/>
<text transform="translate(283.00,714.70) scale(1,0.95)" font-size="8.6" text-anchor="middle" fill="#4d4d4d">200</text>
<line x1="369.05" y1="703.2" x2="369.05" y2="706.00" stroke="#333" stroke-width="1"/>
<text transform="translate(369.05,714.70) scale(1,0.95)" font-size="8.6" text-anchor="middle" fill="#4d4d4d">300</text>
<text transform="translate(258.00,726.90) scale(1,0.9)" font-size="10.3" text-anchor="middle" fill="#000">pdl1_hscore</text>
<text transform="translate(98.10,665.50) scale(1,0.99) rotate(-90)" font-size="10.3" text-anchor="middle" fill="#000">count</text>
<text transform="translate(110.40,621.30) scale(1,0.92)" font-size="12.3" fill="#000">Distribution of PDL 1 H Score</text>
<rect x="145.4" y="737.6" width="96.10" height="91.60" fill="#fff"/>
<line x1="160.20" y1="737.6" x2="160.20" y2="829.2" stroke="#f2f2f2" stroke-width="0.6"/>
<line x1="190.60" y1="737.6" x2="190.60" y2="829.2" stroke="#f2f2f2" stroke-width="0.6"/>
<line x1="221.00" y1="737.6" x2="221.00" y2="829.2" stroke="#f2f2f2" stroke-width="0.6"/>
<line x1="175.40" y1="737.6" x2="175.40" y2="829.2" stroke="#ebebeb" stroke-width="1"/>
<line x1="205.80" y1="737.6" x2="205.80" y2="829.2" stroke="#ebebeb" stroke-width="1"/>
<line x1="236.20" y1="737.6" x2="236.20" y2="829.2" stroke="#ebebeb" stroke-width="1"/>
<line x1="145.4" y1="755.00" x2="241.5" y2="755.00" stroke="#ebebeb" stroke-width="1"/>
<line x1="145.4" y1="783.70" x2="241.5" y2="783.70" stroke="#ebebeb" stroke-width="1"/>
<line x1="145.4" y1="812.40" x2="241.5" y2="812.40" stroke="#ebebeb" stroke-width="1"/>
<line x1="205.00" y1="755.00" x2="205.50" y2="755.00" stroke="#444" stroke-width="0.95"/>
<line x1="219.70" y1="755.00" x2="236.10" y2="755.00" stroke="#444" stroke-width="0.95"/>
<rect x="205.50" y="744.20" width="14.20" height="21.60" fill="#fff" stroke="#444" stroke-width="0.95"/>
<line x1="212.50" y1="744.20" x2="212.50" y2="765.80" stroke="#1a1a1a" stroke-width="1.6"/>
<line x1="149.90" y1="783.70" x2="186.50" y2="783.70" stroke="#444" stroke-width="0.95"/>
<line x1="231.30" y1="783.70" x2="237.60" y2="783.70" stroke="#444" stroke-width="0.95"/>
<rect x="186.50" y="772.90" width="44.80" height="21.60" fill="#fff" stroke="#444" stroke-width="0.95"/>
<line x1="209.70" y1="772.90" x2="209.70" y2="794.50" stroke="#1a1a1a" stroke-width="1.6"/>
<line x1="182.30" y1="812.40" x2="196.40" y2="812.40" stroke="#444" stroke-width="0.95"/>
<line x1="220.30" y1="812.40" x2="237.60" y2="812.40" stroke="#444" stroke-width="0.95"/>
<rect x="196.40" y="801.60" width="23.90" height="21.60" fill="#fff" stroke="#444" stroke-width="0.95"/>
<line x1="209.50" y1="801.60" x2="209.50" y2="823.20" stroke="#1a1a1a" stroke-width="1.6"/>
<circle cx="172.3" cy="754.8" r="1.6" fill="#111"/>
<circle cx="163" cy="755.1" r="1.65" fill="#A020F0"/>
<circle cx="172.3" cy="756.1" r="1.65" fill="#A020F0"/>
<circle cx="205.1" cy="755.5" r="1.65" fill="#A020F0"/>
<circle cx="204.4" cy="760" r="1.65" fill="#A020F0"/>
<circle cx="210.8" cy="754" r="1.65" fill="#A020F0"/>
<circle cx="214.6" cy="752.3" r="1.65" fill="#A020F0"/>
<circle cx="219.7" cy="752.3" r="1.65" fill="#A020F0"/>
<circle cx="218.8" cy="760.8" r="1.65" fill="#A020F0"/>
<circle cx="230.9" cy="754.2" r="1.65" fill="#A020F0"/>
<circle cx="237.6" cy="760" r="1.65" fill="#A020F0"/>
<circle cx="149.5" cy="780.4" r="1.65" fill="#A020F0"/>
<circle cx="181.4" cy="778.1" r="1.65" fill="#A020F0"/>
<circle cx="188.2" cy="779.2" r="1.65" fill="#A020F0"/>
<circle cx="203" cy="785.1" r="1.65" fill="#A020F0"/>
<circle cx="216.7" cy="782.3" r="1.65" fill="#A020F0"/>
<circle cx="229.8" cy="783" r="1.65" fill="#A020F0"/>
<circle cx="237.2" cy="781.5" r="1.65" fill="#A020F0"/>
<circle cx="237.6" cy="785.7" r="1.65" fill="#A020F0"/>
<circle cx="185.4" cy="809.8" r="1.65" fill="#A020F0"/>
<circle cx="182.3" cy="819.3" r="1.65" fill="#A020F0"/>
<circle cx="189.7" cy="817.8" r="1.65" fill="#A020F0"/>
<circle cx="203" cy="809.8" r="1.65" fill="#A020F0"/>
<circle cx="209.3" cy="812.7" r="1.65" fill="#A020F0"/>
<circle cx="210.8" cy="807.3" r="1.65" fill="#A020F0"/>
<circle cx="213.3" cy="814.7" r="1.65" fill="#A020F0"/>
<circle cx="221.3" cy="807.3" r="1.65" fill="#A020F0"/>
<circle cx="221.3" cy="815.7" r="1.65" fill="#A020F0"/>
<circle cx="218.8" cy="819.3" r="1.65" fill="#A020F0"/>
<circle cx="237.6" cy="814" r="1.65" fill="#A020F0"/>
<rect x="145.4" y="737.6" width="96.10" height="91.60" fill="none" stroke="#555" stroke-width="1.15"/>
<line x1="142.40" y1="755.00" x2="145.4" y2="755.00" stroke="#333" stroke-width="1"/>
<line x1="142.40" y1="783.70" x2="145.4" y2="783.70" stroke="#333" stroke-width="1"/>
<line x1="142.40" y1="812.40" x2="145.4" y2="812.40" stroke="#333" stroke-width="1"/>
<text transform="translate(140.20,758.20)" font-size="8.4" text-anchor="end" fill="#4d4d4d">CMR</text>
<text transform="translate(140.20,786.90)" font-size="8.4" text-anchor="end" fill="#4d4d4d">Near-CMR</text>
<text transform="translate(140.20,815.60)" font-size="8.4" text-anchor="end" fill="#4d4d4d">PMR</text>
<line x1="175.40" y1="829.2" x2="175.40" y2="832.00" stroke="#333" stroke-width="1"/>
<text transform="translate(175.40,841.20) scale(1,0.95)" font-size="8.6" text-anchor="middle" fill="#4d4d4d">100</text>
<line x1="205.80" y1="829.2" x2="205.80" y2="832.00" stroke="#333" stroke-width="1"/>
<text transform="translate(205.80,841.20) scale(1,0.95)" font-size="8.6" text-anchor="middle" fill="#4d4d4d">200</text>
<line x1="236.20" y1="829.2" x2="236.20" y2="832.00" stroke="#333" stroke-width="1"/>
<text transform="translate(236.20,841.20) scale(1,0.95)" font-size="8.6" text-anchor="middle" fill="#4d4d4d">300</text>
<text transform="translate(193.45,851.80) scale(1,0.9)" font-size="10.3" text-anchor="middle" fill="#000">pdl1_hscore</text>
<text transform="translate(97.20,784.00) scale(1,1.02) rotate(-90)" font-size="10.3" text-anchor="middle" fill="#000">response</text>
<rect x="306.5" y="737.6" width="98.00" height="91.40" fill="#fff"/>
<line x1="320.55" y1="737.6" x2="320.55" y2="829.0" stroke="#f2f2f2" stroke-width="0.6"/>
<line x1="352.45" y1="737.6" x2="352.45" y2="829.0" stroke="#f2f2f2" stroke-width="0.6"/>
<line x1="384.35" y1="737.6" x2="384.35" y2="829.0" stroke="#f2f2f2" stroke-width="0.6"/>
<line x1="336.50" y1="737.6" x2="336.50" y2="829.0" stroke="#ebebeb" stroke-width="1"/>
<line x1="368.40" y1="737.6" x2="368.40" y2="829.0" stroke="#ebebeb" stroke-width="1"/>
<line x1="400.30" y1="737.6" x2="400.30" y2="829.0" stroke="#ebebeb" stroke-width="1"/>
<line x1="306.5" y1="762.70" x2="404.5" y2="762.70" stroke="#ebebeb" stroke-width="1"/>
<line x1="306.5" y1="804.40" x2="404.5" y2="804.40" stroke="#ebebeb" stroke-width="1"/>
<line x1="343.20" y1="762.70" x2="358.70" y2="762.70" stroke="#444" stroke-width="0.95"/>
<line x1="383.40" y1="762.70" x2="399.60" y2="762.70" stroke="#444" stroke-width="0.95"/>
<rect x="358.70" y="747.00" width="24.70" height="31.40" fill="#fff" stroke="#444" stroke-width="0.95"/>
<line x1="372.60" y1="747.00" x2="372.60" y2="778.40" stroke="#1a1a1a" stroke-width="1.6"/>
<line x1="311.10" y1="804.40" x2="353.80" y2="804.40" stroke="#444" stroke-width="0.95"/>
<line x1="390.10" y1="804.40" x2="400.70" y2="804.40" stroke="#444" stroke-width="0.95"/>
<rect x="353.80" y="788.70" width="36.30" height="31.40" fill="#fff" stroke="#444" stroke-width="0.95"/>
<line x1="375.50" y1="788.70" x2="375.50" y2="820.10" stroke="#1a1a1a" stroke-width="1.6"/>
<circle cx="343.6" cy="762.5" r="1.65" fill="#A020F0"/>
<circle cx="347.6" cy="765.9" r="1.65" fill="#A020F0"/>
<circle cx="352" cy="759.9" r="1.65" fill="#A020F0"/>
<circle cx="365.5" cy="759.2" r="1.65" fill="#A020F0"/>
<circle cx="371.3" cy="752.8" r="1.65" fill="#A020F0"/>
<circle cx="372.4" cy="767.6" r="1.65" fill="#A020F0"/>
<circle cx="375.7" cy="764.7" r="1.65" fill="#A020F0"/>
<circle cx="381.2" cy="759.9" r="1.65" fill="#A020F0"/>
<circle cx="384.5" cy="756.1" r="1.65" fill="#A020F0"/>
<circle cx="384.5" cy="769.4" r="1.65" fill="#A020F0"/>
<circle cx="400.3" cy="770.5" r="1.65" fill="#A020F0"/>
<circle cx="311.1" cy="808.2" r="1.65" fill="#A020F0"/>
<circle cx="323.9" cy="804.4" r="1.65" fill="#A020F0"/>
<circle cx="334.3" cy="806.7" r="1.65" fill="#A020F0"/>
<circle cx="343.2" cy="806.7" r="1.65" fill="#A020F0"/>
<circle cx="349.8" cy="812" r="1.65" fill="#A020F0"/>
<circle cx="365.3" cy="803.1" r="1.65" fill="#A020F0"/>
<circle cx="366.4" cy="806" r="1.65" fill="#A020F0"/>
<circle cx="367.5" cy="813.7" r="1.65" fill="#A020F0"/>
<circle cx="373" cy="809.7" r="1.65" fill="#A020F0"/>
<circle cx="377" cy="814.8" r="1.65" fill="#A020F0"/>
<circle cx="379.2" cy="808.2" r="1.65" fill="#A020F0"/>
<circle cx="381.2" cy="799.8" r="1.65" fill="#A020F0"/>
<circle cx="382.6" cy="797.8" r="1.65" fill="#A020F0"/>
<circle cx="391.9" cy="801.6" r="1.65" fill="#A020F0"/>
<circle cx="394.1" cy="803.1" r="1.65" fill="#A020F0"/>
<circle cx="400.3" cy="798.9" r="1.65" fill="#A020F0"/>
<circle cx="400.3" cy="803.8" r="1.65" fill="#A020F0"/>
<circle cx="400.7" cy="805.3" r="1.65" fill="#A020F0"/>
<rect x="306.5" y="737.6" width="98.00" height="91.40" fill="none" stroke="#555" stroke-width="1.15"/>
<line x1="303.50" y1="762.70" x2="306.5" y2="762.70" stroke="#333" stroke-width="1"/>
<line x1="303.50" y1="804.40" x2="306.5" y2="804.40" stroke="#333" stroke-width="1"/>
<text transform="translate(301.40,766.30)" font-size="8.4" text-anchor="end" fill="#4d4d4d">PR</text>
<text transform="translate(301.40,803.80)" font-size="8.4" text-anchor="end" fill="#4d4d4d">CMR/near</text>
<text transform="translate(301.40,812.00)" font-size="8.4" text-anchor="end" fill="#4d4d4d">CMR</text>
<line x1="336.50" y1="829.0" x2="336.50" y2="831.80" stroke="#333" stroke-width="1"/>
<text transform="translate(336.50,841.20) scale(1,0.95)" font-size="8.6" text-anchor="middle" fill="#4d4d4d">100</text>
<line x1="368.40" y1="829.0" x2="368.40" y2="831.80" stroke="#333" stroke-width="1"/>
<text transform="translate(368.40,841.20) scale(1,0.95)" font-size="8.6" text-anchor="middle" fill="#4d4d4d">200</text>
<line x1="400.30" y1="829.0" x2="400.30" y2="831.80" stroke="#333" stroke-width="1"/>
<text transform="translate(400.30,841.20) scale(1,0.95)" font-size="8.6" text-anchor="middle" fill="#4d4d4d">300</text>
<text transform="translate(355.50,851.80) scale(1,0.9)" font-size="10.3" text-anchor="middle" fill="#000">pdl1_hscore</text>
<text transform="translate(259.90,783.90) scale(1,0.955) rotate(-90)" font-size="10.3" text-anchor="middle" fill="#000">dichotimized_response</text>
</svg></body></html>
